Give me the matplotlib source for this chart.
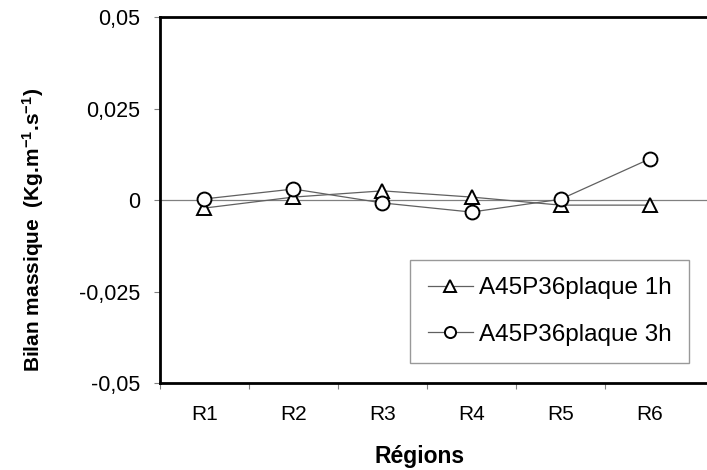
import numpy as np
import matplotlib
matplotlib.use("Agg")
import matplotlib.pyplot as plt

plt.rcParams['font.family'] = ['Liberation Sans', 'DejaVu Sans']
plt.rcParams['mathtext.fontset'] = 'custom'
plt.rcParams['mathtext.rm'] = 'Liberation Sans'
plt.rcParams['mathtext.bf'] = 'Liberation Sans:bold'

regions = ["R1", "R2", "R3", "R4", "R5", "R6"]
plaque_1h = [-0.0022, 0.0008, 0.0025, 0.0008, -0.0014, -0.0014]
plaque_3h = [0.0003, 0.0030, -0.0008, -0.0033, 0.0002, 0.0112]
yticks = [-0.05, -0.025, 0, 0.025, 0.05]
ytick_labels = ["-0,05", "-0,025", "0", "0,025", "0,05"]

fig = plt.figure(figsize=(7.07, 4.70), dpi=100)
ax = fig.add_axes([0.2263, 0.1851, 0.7737, 0.7787])

x = np.arange(len(regions))
ax.axhline(0, color="#808080", lw=0.9, zorder=1)
ax.plot(x, plaque_1h, color="#606060", lw=0.9, marker="^", ms=10,
        mfc="white", mec="black", mew=1.4, label="A45P36plaque 1h", zorder=3)
ax.plot(x, plaque_3h, color="#606060", lw=0.9, marker="o", ms=10,
        mfc="white", mec="black", mew=1.4, label="A45P36plaque 3h", zorder=3)

ax.set_xlim(-0.5, 5.646)
ax.set_ylim(-0.05, 0.05)
ax.set_yticks(yticks)
ax.set_yticklabels(ytick_labels, fontsize=15.5)
ax.set_xticks(x)
ax.set_xticklabels(regions, fontsize=15)
# category boundaries (last one falls outside the crop)
ax.set_xticks(np.arange(-0.5, 5, 1), minor=True)
ax.tick_params(axis="x", which="major", length=0, pad=16)
ax.tick_params(axis="x", which="minor", length=4, color="#808080", width=0.8)
ax.tick_params(axis="y", length=4, color="#808080", width=0.8, pad=10)

for s in ["left", "bottom", "top"]:
    ax.spines[s].set_linewidth(2)
    ax.spines[s].set_color("black")
ax.spines["right"].set_visible(False)

ax.set_xlabel("Régions", fontsize=16.5, fontweight="bold")
ax.xaxis.label.set_va("center")
ax.xaxis.set_label_coords(0.475, -0.202)
ax.set_ylabel(r"Bilan massique  (Kg.m$\mathbf{^{-1}}$.s$\mathbf{^{-1}}$)",
              fontsize=15, fontweight="bold")
ax.yaxis.label.set_va("center")
ax.yaxis.set_label_coords(-0.232, 0.418)

leg = ax.legend(loc="lower right", bbox_to_anchor=(0.967, 0.0546), fontsize=17.5,
                frameon=True, fancybox=False, edgecolor="#808080",
                handlelength=1.85, handletextpad=0.25, borderpad=0.72,
                labelspacing=1.0, borderaxespad=0, markerscale=0.8)
leg.get_frame().set_linewidth(1.0)

fig.savefig("out.png", dpi=100)
